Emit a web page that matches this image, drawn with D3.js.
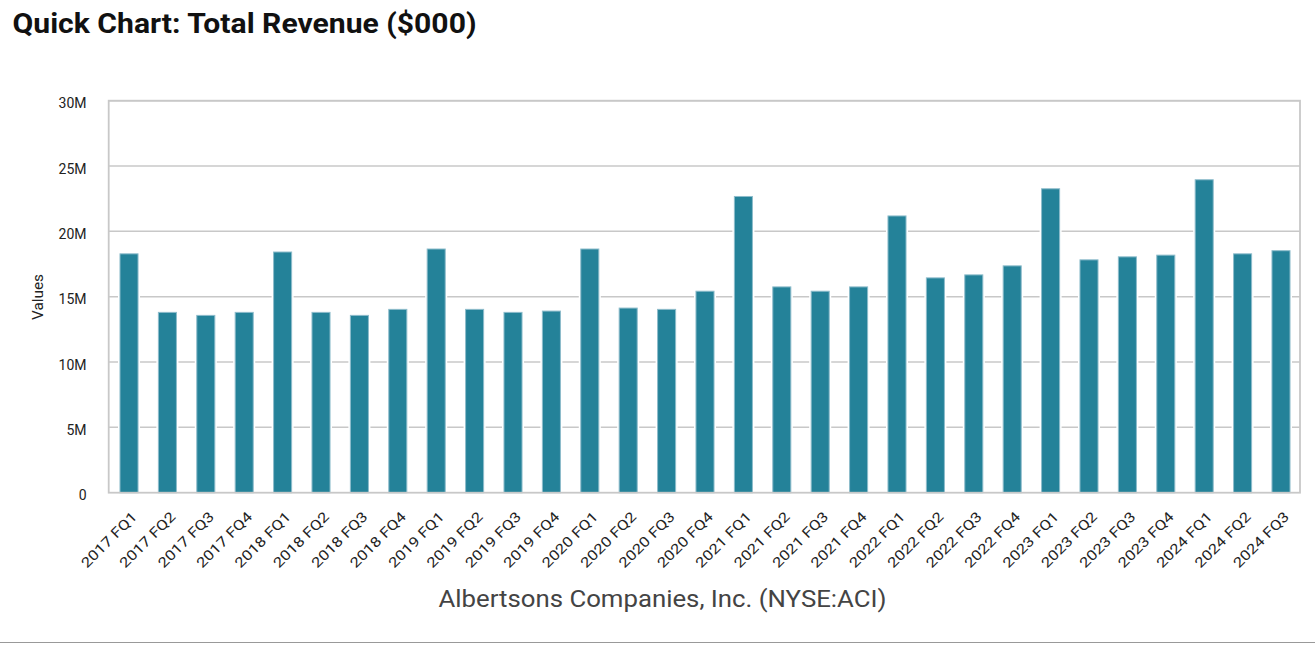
<!DOCTYPE html>
<html><head><meta charset="utf-8">
<script src="https://cdn.jsdelivr.net/npm/d3@7"></script>
<style>html,body{margin:0;padding:0;background:#fff;}svg{display:block;}</style>
</head><body>
<svg id="chart" width="1315" height="654"></svg>
<script>
const categories = ["2017 FQ1","2017 FQ2","2017 FQ3","2017 FQ4","2018 FQ1","2018 FQ2","2018 FQ3","2018 FQ4","2019 FQ1","2019 FQ2","2019 FQ3","2019 FQ4","2020 FQ1","2020 FQ2","2020 FQ3","2020 FQ4","2021 FQ1","2021 FQ2","2021 FQ3","2021 FQ4","2022 FQ1","2022 FQ2","2022 FQ3","2022 FQ4","2023 FQ1","2023 FQ2","2023 FQ3","2023 FQ4","2024 FQ1","2024 FQ2","2024 FQ3"];
const revenue = [18.28,13.8,13.57,13.8,18.42,13.8,13.57,14.03,18.65,14.03,13.8,13.9,18.65,14.13,14.03,15.42,22.67,15.75,15.42,15.75,21.18,16.44,16.67,17.36,23.26,17.82,18.05,18.18,23.95,18.28,18.52].map(v => v * 1e6);
const yTicks = [0, 5e6, 10e6, 15e6, 20e6, 25e6, 30e6];
const yTickLabels = ["0","5M","10M","15M","20M","25M","30M"];

(function () {
const svg = d3.select("#chart");
const pLeft = 108.7, pRight = 1300, pTop = 100.7, pBottom = 492.7;

const x = d3.scaleBand().domain(categories).range([110, 1300]).paddingInner(0.53).paddingOuter(0.26);
const y = d3.scaleLinear().domain([0, 30e6]).range([pBottom, pTop]);

// title
svg.append("text").attr("x", 12.5).attr("y", 33)
  .attr("font-family", "Roboto, sans-serif").attr("font-weight", "bold").attr("font-size", 27.5)
  .attr("textLength", 464).attr("lengthAdjust", "spacingAndGlyphs")
  .attr("fill", "#111").text("Quick Chart: Total Revenue ($000)");

// gridlines
svg.append("g").selectAll("line").data(yTicks.slice(1)).join("line")
  .attr("x1", pLeft).attr("x2", pRight)
  .attr("y1", d => y(d)).attr("y2", d => y(d))
  .attr("stroke", "#c8c8c8").attr("stroke-width", 1.5);

// bars underlay (white halo)
svg.append("g").selectAll("rect").data(revenue).join("rect")
  .attr("x", (d, i) => x(categories[i]) - 2)
  .attr("y", d => y(d) - 1)
  .attr("width", x.bandwidth() + 4)
  .attr("height", d => pBottom - y(d) + 1)
  .attr("fill", "#fff");

// bars
svg.append("g").selectAll("rect").data(revenue).join("rect")
  .attr("x", (d, i) => x(categories[i]))
  .attr("y", d => y(d))
  .attr("width", x.bandwidth())
  .attr("height", d => pBottom - y(d))
  .attr("fill", "#248299")
  .attr("stroke", "#8dbccb").attr("stroke-width", 1);

// plot border
svg.append("rect").attr("x", pLeft).attr("y", pTop).attr("width", pRight - pLeft).attr("height", pBottom - pTop)
  .attr("fill", "none").attr("stroke", "#c8c8c8").attr("stroke-width", 1.8);

// y axis
const yAxis = d3.axisLeft(y).tickValues(yTicks).tickFormat((d, i) => yTickLabels[i]).tickSize(0).tickPadding(0);
const yg = svg.append("g").attr("transform", "translate(86.5,0)").call(yAxis);
yg.select(".domain").remove();
yg.selectAll("text").attr("font-family", "Roboto, sans-serif").attr("font-size", 14).attr("fill", "#222").attr("dy", "0.5em");

// x axis
const xAxis = d3.axisBottom(x).tickSize(0).tickPadding(0);
const xg = svg.append("g").attr("transform", `translate(0,${pBottom})`).call(xAxis);
xg.select(".domain").remove();
xg.selectAll("text")
  .attr("font-family", "Roboto, sans-serif").attr("font-size", 14).attr("fill", "#222")
  .attr("text-anchor", "end").attr("dy", null).attr("y", 0)
  .attr("transform", "translate(9,25) rotate(-45)")
  .each(function () {
    const len = this.getComputedTextLength();
    d3.select(this).attr("textLength", len * 1.2).attr("lengthAdjust", "spacingAndGlyphs");
  });

// y label
svg.append("text").attr("transform", "translate(42.5,297) rotate(-90)")
  .attr("text-anchor", "middle").attr("font-family", "Roboto, sans-serif").attr("font-size", 14)
  .attr("textLength", 46).attr("lengthAdjust", "spacingAndGlyphs")
  .attr("fill", "#222").text("Values");

// subtitle
svg.append("text").attr("x", 438.5).attr("y", 607)
  .attr("font-family", "Roboto, sans-serif").attr("font-size", 24.5).attr("fill", "#444")
  .attr("textLength", 448).attr("lengthAdjust", "spacingAndGlyphs")
  .text("Albertsons Companies, Inc. (NYSE:ACI)");

// bottom rule
svg.append("line").attr("x1", 0).attr("x2", 1315).attr("y1", 642.5).attr("y2", 642.5)
  .attr("stroke", "#999").attr("stroke-width", 1);
})();
</script>
</body></html>
